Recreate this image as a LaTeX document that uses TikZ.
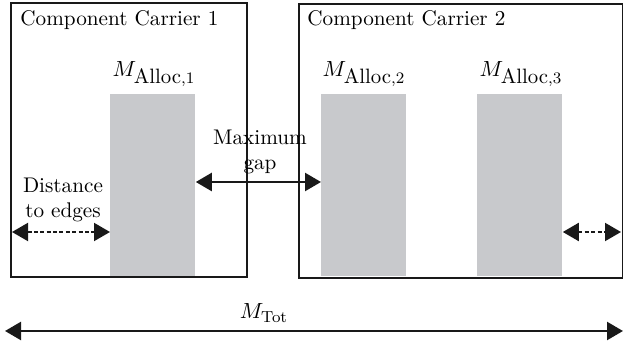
\documentclass[tikz,border=0pt]{standalone}
\usetikzlibrary{arrows.meta}
\definecolor{allocgray}{RGB}{200,201,204}
\newcommand{\allocsub}[1]{M_{\mbox{\fontsize{10.4}{12}\selectfont Alloc},#1}}
\begin{document}
\begin{tikzpicture}[x=0.5pt,y=-0.5pt,
  carrier/.style={draw=black!90,line width=1pt,inner sep=0pt,anchor=north west},
  alloc/.style={fill=allocgray,draw=none,inner sep=0pt,anchor=north west,minimum width=42.5pt,minimum height=91pt},
  lbl/.style={inner sep=0pt,font=\fontsize{10.6}{12.8}\selectfont},
  mlbl/.style={inner sep=0pt,font=\fontsize{11.3}{13.5}\selectfont},
  dbl/.style={{Triangle[length=8pt,width=9pt]}-{Triangle[length=8pt,width=9pt]},line width=1.2pt,black!90},
  dbldash/.style={dbl,dashed,dash pattern=on 2pt off 1.2pt,line width=1pt}
]
\useasboundingbox (0,0) rectangle (623,352);
\node[carrier,minimum width=118pt,minimum height=137pt] (cc1) at (10,2.5) {};
\node[carrier,minimum width=162pt,minimum height=137pt] (cc2) at (298,3) {};
\node[lbl,anchor=west] (t1) at (20,20) {Component Carrier 1};
\node[lbl,anchor=west] (t2) at (307,20) {Component Carrier 2};
\node[alloc] (a1) at (110,94) {};
\node[alloc] (a2) at (321,94) {};
\node[alloc] (a3) at (477,94) {};
\node[mlbl] (l1) at (154,74) {$\allocsub{1}$};
\node[mlbl] (l2) at (364,74) {$\allocsub{2}$};
\node[mlbl] (l3) at (521,74) {$\allocsub{3}$};
\node[lbl,align=center] (mg) at (260,152) {Maximum\\gap};
\node[lbl,align=center] (de) at (63,200) {Distance\\to edges};
\draw[dbl] (a1.east |- 0,182) -- (a2.west |- 0,182);
\coordinate (d1) at (12,232);
\draw[dbldash] (d1) -- (a1.west |- d1);
\coordinate (e2) at (621,232);
\draw[dbldash] (a3.east |- e2) -- (e2);
\coordinate (m1) at (5,331);
\coordinate (m2) at (623,331);
\draw[dbl] (m1) -- (m2);
\node[mlbl] (mt) at (264,313) {$M_{\mathrm{Tot}}$};
\end{tikzpicture}
\end{document}
